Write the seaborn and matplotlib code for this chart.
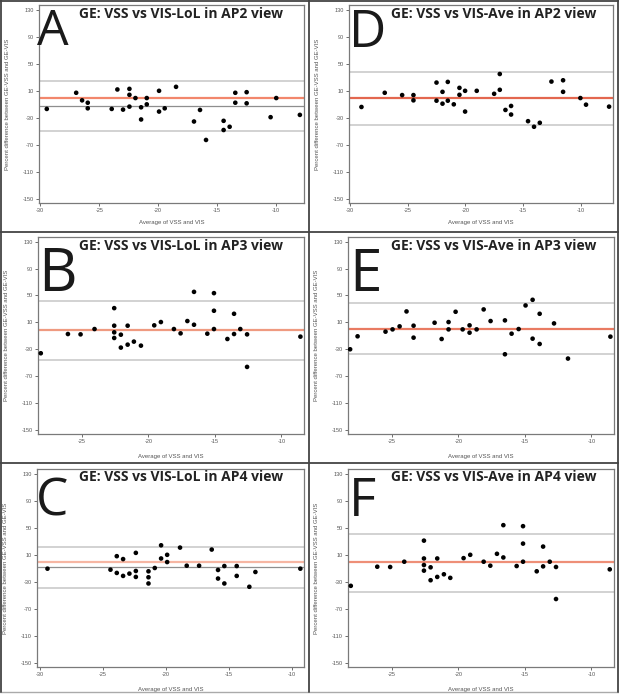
import numpy as np
import pandas as pd
import matplotlib
matplotlib.use("Agg")
import matplotlib.pyplot as plt
from matplotlib.lines import Line2D
import seaborn as sns

# ---------------- data ----------------
a_x = [-29.44, -26.95, -26.45, -25.97, -25.97, -23.94, -23.46, -22.98, -22.44, -22.44, -22.44,
       -21.93, -21.45, -21.45, -20.97, -20.97, -19.93, -19.93, -19.45, -18.49, -16.97, -16.46,
       -15.95, -14.46, -14.46, -13.95, -13.47, -13.47, -12.51, -12.51, -10.48, -10.0, -8.0]
a_y = [-16.8, 7.1, -4.1, -7.6, -15.9, -16.8, 12.0, -17.8, 12.9, 4.1, -13.4,
       -0.7, -14.4, -32.4, -0.7, -10.0, 10.0, -20.7, -15.9, 15.9, -35.4, -18.3,
       -62.7, -34.4, -48.0, -43.2, 7.1, -7.6, 8.0, -8.5, -29.0, -0.7, -25.6]

d_x = [-29.02, -27.0, -25.49, -24.51, -24.51, -22.51, -22.51, -21.99, -21.99, -21.53, -21.53,
       -21.01, -20.52, -20.52, -20.03, -20.03, -19.02, -17.51, -17.02, -17.02, -16.53, -16.04,
       -16.04, -14.57, -14.05, -13.55, -12.54, -11.53, -11.53, -10.03, -9.54, -7.54]
d_y = [-13.9, 7.1, 3.7, 3.7, -4.1, 22.2, -4.6, 8.5, -9.0, 23.2, -4.6,
       -10.0, 14.4, 4.1, 10.0, -20.7, 10.0, 5.6, 34.9, 11.5, -18.3, -12.4,
       -25.1, -34.9, -43.2, -37.3, 23.7, 25.6, 8.5, -0.7, -10.5, -13.4]

b_x = [-28.09, -26.05, -25.1, -24.05, -22.57, -22.57, -22.57, -22.57, -22.07, -22.07, -21.56,
       -21.56, -21.09, -20.56, -19.56, -19.06, -18.08, -17.58, -17.07, -16.57, -16.57, -15.57,
       -15.07, -15.07, -15.07, -14.06, -13.56, -13.56, -13.09, -12.58, -12.58, -8.57]
b_y = [-35.9, -7.3, -7.8, 0.1, 31.2, 5.1, -4.8, -13.2, -8.3, -27.5, 5.1,
       -23.1, -18.6, -24.6, 5.6, 10.5, 0.1, -6.3, 12.0, 55.4, 6.5, -6.8,
       53.5, 27.3, 0.1, -14.7, 22.8, -7.3, 0.1, -7.8, -56.2, -11.2]

e_x = [-28.14, -27.58, -25.48, -24.95, -24.42, -23.9, -23.37, -23.37, -21.79, -21.26, -20.74,
       -20.74, -20.21, -19.68, -19.16, -19.16, -18.63, -18.1, -17.58, -16.5, -16.5, -16.0,
       -15.47, -14.95, -14.42, -14.42, -13.89, -13.89, -12.81, -11.76, -8.57]
e_y = [-30.0, -10.7, -3.8, -0.4, 4.1, 26.3, 5.1, -12.7, 9.5, -14.7, 10.5,
       -0.4, 25.8, -0.4, 5.6, -5.3, -0.4, 29.3, 12.0, 13.0, -37.4, -6.8,
       0.1, 35.2, 43.6, -14.2, 22.8, -22.1, 8.5, -43.8, -11.2]

c_x = [-29.37, -24.38, -23.88, -23.88, -23.38, -23.38, -22.88, -22.37, -22.37, -22.37, -21.37,
       -21.37, -21.37, -20.87, -20.37, -20.37, -19.89, -19.89, -18.87, -18.34, -17.36, -16.36,
       -15.86, -15.86, -15.36, -15.36, -14.38, -14.38, -13.38, -12.9, -9.34]
c_y = [-10.5, -12.0, 8.0, -16.8, 3.7, -21.2, -17.8, 12.9, -13.9, -22.7, -14.4,
       -23.2, -32.4, -9.5, 24.1, 4.6, 10.0, -0.7, 20.7, -6.1, -6.1, 17.8,
       -12.4, -25.1, -6.6, -32.4, -6.6, -21.2, -37.3, -15.4, -10.5]

f_x = [-28.09, -26.1, -25.13, -24.07, -22.59, -22.59, -22.59, -22.59, -22.09, -22.09, -21.59,
       -21.59, -21.09, -20.61, -19.61, -19.11, -18.1, -17.6, -17.1, -16.62, -16.62, -15.62,
       -15.14, -15.14, -15.14, -14.11, -13.63, -13.63, -13.13, -12.66, -12.66, -8.62]
f_y = [-35.9, -7.6, -8.0, -0.2, 31.0, 4.6, -5.1, -13.4, -8.5, -27.6, 4.6,
       -22.7, -18.8, -24.1, 5.1, 10.0, -0.2, -6.1, 11.5, 53.9, 6.1, -6.6,
       52.4, 26.6, -0.2, -14.4, 22.2, -7.1, -0.2, -8.0, -55.4, -11.5]

# reference lines: upper limit, bias (red), lower limit, mean (dark grey, if shown)
upper = {"A": 24.0, "D": 37.3, "B": 41.6, "E": 38.1, "C": 21.7, "F": 40.2}
bias = {"A": -1.2, "D": -1.2, "B": -0.9, "E": 0.1, "C": -0.2, "F": -0.7}
lower = {"A": -49.5, "D": -40.7, "B": -45.3, "E": -37.4, "C": -39.3, "F": -45.1}
mid = {"A": -12.9, "C": -8.5}

titles = {
    "A": "GE: VSS vs VIS-LoL in AP2 view",
    "D": "GE: VSS vs VIS-Ave in AP2 view",
    "B": "GE: VSS vs VIS-LoL in AP3 view",
    "E": "GE: VSS vs VIS-Ave in AP3 view",
    "C": "GE: VSS vs VIS-LoL in AP4 view",
    "F": "GE: VSS vs VIS-Ave in AP4 view",
}
xlabel = "Average of VSS and VIS"
ylabel = "Percent difference between GE-VSS and GE-VIS"
yticks = [130, 90, 50, 10, -30, -70, -110, -150]
xticks_long = [-30, -25, -20, -15, -10]
xticks_short = [-25, -20, -15, -10]

data = {"A": (a_x, a_y), "D": (d_x, d_y), "B": (b_x, b_y),
        "E": (e_x, e_y), "C": (c_x, c_y), "F": (f_x, f_y)}

# ---------------- layout (pixels) ----------------
W, H = 619, 695
sns.set_style("white")
plt.rcParams["font.family"] = ["Liberation Sans", "DejaVu Sans"]
plt.rcParams["axes.unicode_minus"] = False

fig = plt.figure(figsize=(W / 100, H / 100), dpi=100)

layout = {
    "A": (39, 5, 304, 203, (-30.1, -7.65), xticks_long, 37, 45, 36, 79, 18.5, "#f2876c", -0.085),
    "D": (349, 5, 613, 203, (-30.1, -7.2), xticks_long, 349, 47, 37, 391, 18.5, "#e3674f", -0.085),
    "B": (38, 237, 304, 434, (-28.3, -8.3), xticks_short, 38, 291, 43, 79, 250, "#ef9a80", -0.10),
    "E": (348, 237, 614, 434, (-28.3, -8.3), xticks_short, 349, 291, 42, 391, 250, "#e97b62", -0.10),
    "C": (37, 469, 304, 667, (-30.2, -9.05), xticks_long, 36, 515, 37, 79, 481, "#f6b6a3", -0.10),
    "F": (348, 469, 614, 667, (-28.3, -8.3), xticks_short, 349, 516, 38, 391, 481, "#ee8f77", -0.10),
}

for key, (l, t, r, b, xlim, xt, lx, lb, ls, tx, tb, red, xlo) in layout.items():
    ax = fig.add_axes([l / W, 1 - b / H, (r - l) / W, (b - t) / H])
    xs, ys = data[key]
    df = pd.DataFrame({"x": xs, "y": ys})
    ax.axhline(upper[key], color="#c6c6c6", lw=1.1, zorder=1)
    ax.axhline(lower[key], color="#c6c6c6", lw=1.1, zorder=1)
    if key in mid:
        ax.axhline(mid[key], color="#8e8e8e", lw=0.9, zorder=1)
    ax.axhline(bias[key], color=red, lw=1.6, zorder=2)
    sns.scatterplot(data=df, x="x", y="y", ax=ax, color="black", s=11,
                    edgecolor="none", linewidth=0, zorder=3)
    ax.set_xlim(*xlim)
    ax.set_ylim(-156, 137)
    ax.set_xticks(xt)
    ax.set_yticks(yticks)
    ax.tick_params(axis="both", labelsize=4, colors="#555555", length=2.5, width=0.6,
                   pad=1.2, direction="out", bottom=True, left=True)
    for s in ax.spines.values():
        s.set_color("#7a7a7a")
        s.set_linewidth(0.9)
    ax.set_xlabel(xlabel, fontsize=4.3, color="#555555")
    ax.set_ylabel(ylabel, fontsize=4.3, color="#555555")
    ax.yaxis.set_label_coords(-0.108, 0.5)
    ax.xaxis.set_label_coords(0.5, xlo)

    fig.text(lx / W, 1 - lb / H, key, fontsize=ls, family="Open Sans",
             color="#1a1a1a", ha="left", va="baseline")
    fig.text(tx / W, 1 - tb / H, titles[key], fontsize=10, family="Open Sans",
             fontweight="bold", color="#222222", ha="left", va="baseline")

# cell borders
def hline(y, x0, x1, color="#444444", lw=1.3):
    fig.add_artist(Line2D([x0 / W, x1 / W], [1 - y / H, 1 - y / H], color=color, lw=lw))

def vline(x, y0, y1, color="#444444", lw=1.3):
    fig.add_artist(Line2D([x / W, x / W], [1 - y0 / H, 1 - y1 / H], color=color, lw=lw))

hline(0.5, 0, W)
hline(232, 0, W)
hline(463, 0, W)
hline(692, 0, W, color="#aaaaaa", lw=1.0)
vline(0.6, 0, 692)
vline(309, 0, 692)
vline(618.4, 0, 692)

fig.savefig("out.png", dpi=100)
